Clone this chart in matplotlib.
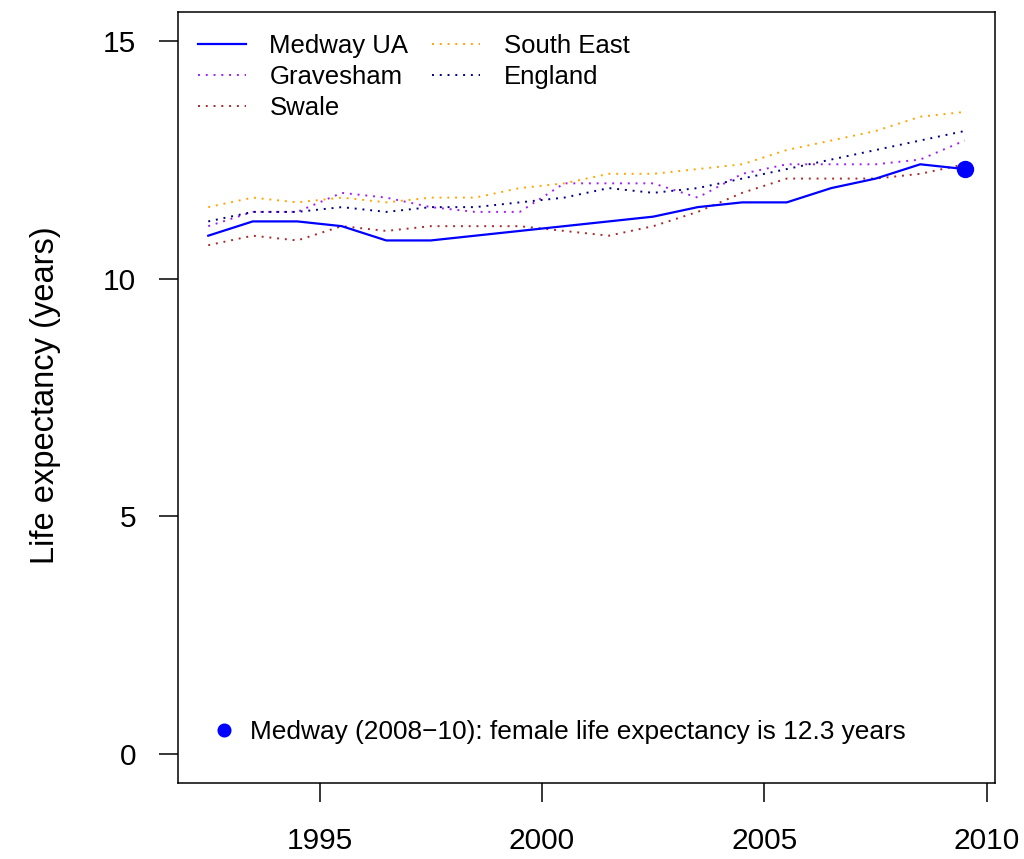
import matplotlib
matplotlib.use("Agg")
import matplotlib.pyplot as plt
from matplotlib.lines import Line2D

plt.rcParams['font.family'] = ['Liberation Sans', 'DejaVu Sans']

# ---- data ----
years = [1992.5, 1993.5, 1994.5, 1995.5, 1996.5, 1997.5, 1998.5, 1999.5, 2000.5,
         2001.5, 2002.5, 2003.5, 2004.5, 2005.5, 2006.5, 2007.5, 2008.5, 2009.5]
medway = [10.9, 11.2, 11.2, 11.1, 10.8, 10.8, 10.9, 11.0, 11.1,
          11.2, 11.3, 11.5, 11.6, 11.6, 11.9, 12.1, 12.4, 12.3]
gravesham = [11.1, 11.4, 11.4, 11.8, 11.7, 11.5, 11.4, 11.4, 12.0,
             12.0, 12.0, 11.7, 12.2, 12.4, 12.4, 12.4, 12.5, 12.9]
swale = [10.7, 10.9, 10.8, 11.1, 11.0, 11.1, 11.1, 11.1, 11.0,
         10.9, 11.1, 11.4, 11.8, 12.1, 12.1, 12.1, 12.2, 12.4]
south_east = [11.5, 11.7, 11.6, 11.7, 11.6, 11.7, 11.7, 11.9, 12.0,
              12.2, 12.2, 12.3, 12.4, 12.7, 12.9, 13.1, 13.4, 13.5]
england = [11.2, 11.4, 11.4, 11.5, 11.4, 11.5, 11.5, 11.6, 11.7,
           11.9, 11.8, 11.9, 12.1, 12.3, 12.5, 12.7, 12.9, 13.1]
latest_year = 2009.5
latest_value = 12.3
x_ticks = [1995, 2000, 2005, 2010]
y_ticks = [0, 5, 10, 15]
latest_label = "Medway (2008\u221210): female life expectancy is 12.3 years"

# ---- figure ----
W, H = 1024, 859
fig = plt.figure(figsize=(W / 100, H / 100), dpi=100)
ax = fig.add_axes([178 / W, 1 - 783 / H, 817 / W, 771 / H])

dot_style = (0, (1, 3.0))
ax.plot(years, medway, color='#0000FF', lw=1.6, label='Medway UA', zorder=5)
ax.plot(years, gravesham, color='#A020F0', lw=1.4, ls=dot_style, label='Gravesham')
ax.plot(years, swale, color='#A52A2A', lw=1.4, ls=dot_style, label='Swale')
ax.plot(years, south_east, color='#FFA500', lw=1.4, ls=dot_style, label='South East')
ax.plot(years, england, color='#000080', lw=1.4, ls=dot_style, label='England')
ax.plot([latest_year], [latest_value], 'o', color='#0000FF', ms=11.5, zorder=6)

ax.set_xlim(1991.82, 2010.18)
ax.set_ylim(-0.6, 15.6)
ax.set_xticks(x_ticks)
ax.set_yticks(y_ticks)
ax.set_xticklabels([str(v) for v in x_ticks])
ax.set_yticklabels([str(v) for v in y_ticks])
ax.tick_params(axis='both', direction='out', length=13.5, width=1.1, colors='black')
ax.tick_params(axis='x', labelsize=21.5, pad=18.5)
ax.tick_params(axis='y', labelsize=21.5, pad=16.5)
for s in ax.spines.values():
    s.set_linewidth(1.1)
    s.set_color('black')

fig.text(46 / W, 1 - 395 / H, "Life expectancy (years)", rotation=90,
         ha='center', va='center', fontsize=23.5)

fs = 18.5
leg1 = ax.legend(loc='upper left', bbox_to_anchor=(0.0245, 0.9716), ncol=2,
                 frameon=False, fontsize=fs, handlelength=1.86, handletextpad=0.92,
                 columnspacing=0.93, labelspacing=0.27, borderpad=0, borderaxespad=0)
ax.add_artist(leg1)

h2 = Line2D([], [], marker='o', color='#0000FF', ls='none', ms=9.1)
ax.legend([h2], [latest_label], loc='lower left', bbox_to_anchor=(0.0403, 0.050),
          frameon=False, fontsize=18.9, handlelength=1.0, handletextpad=0.47,
          borderpad=0, borderaxespad=0, numpoints=1)

fig.savefig("out.png", dpi=100)
